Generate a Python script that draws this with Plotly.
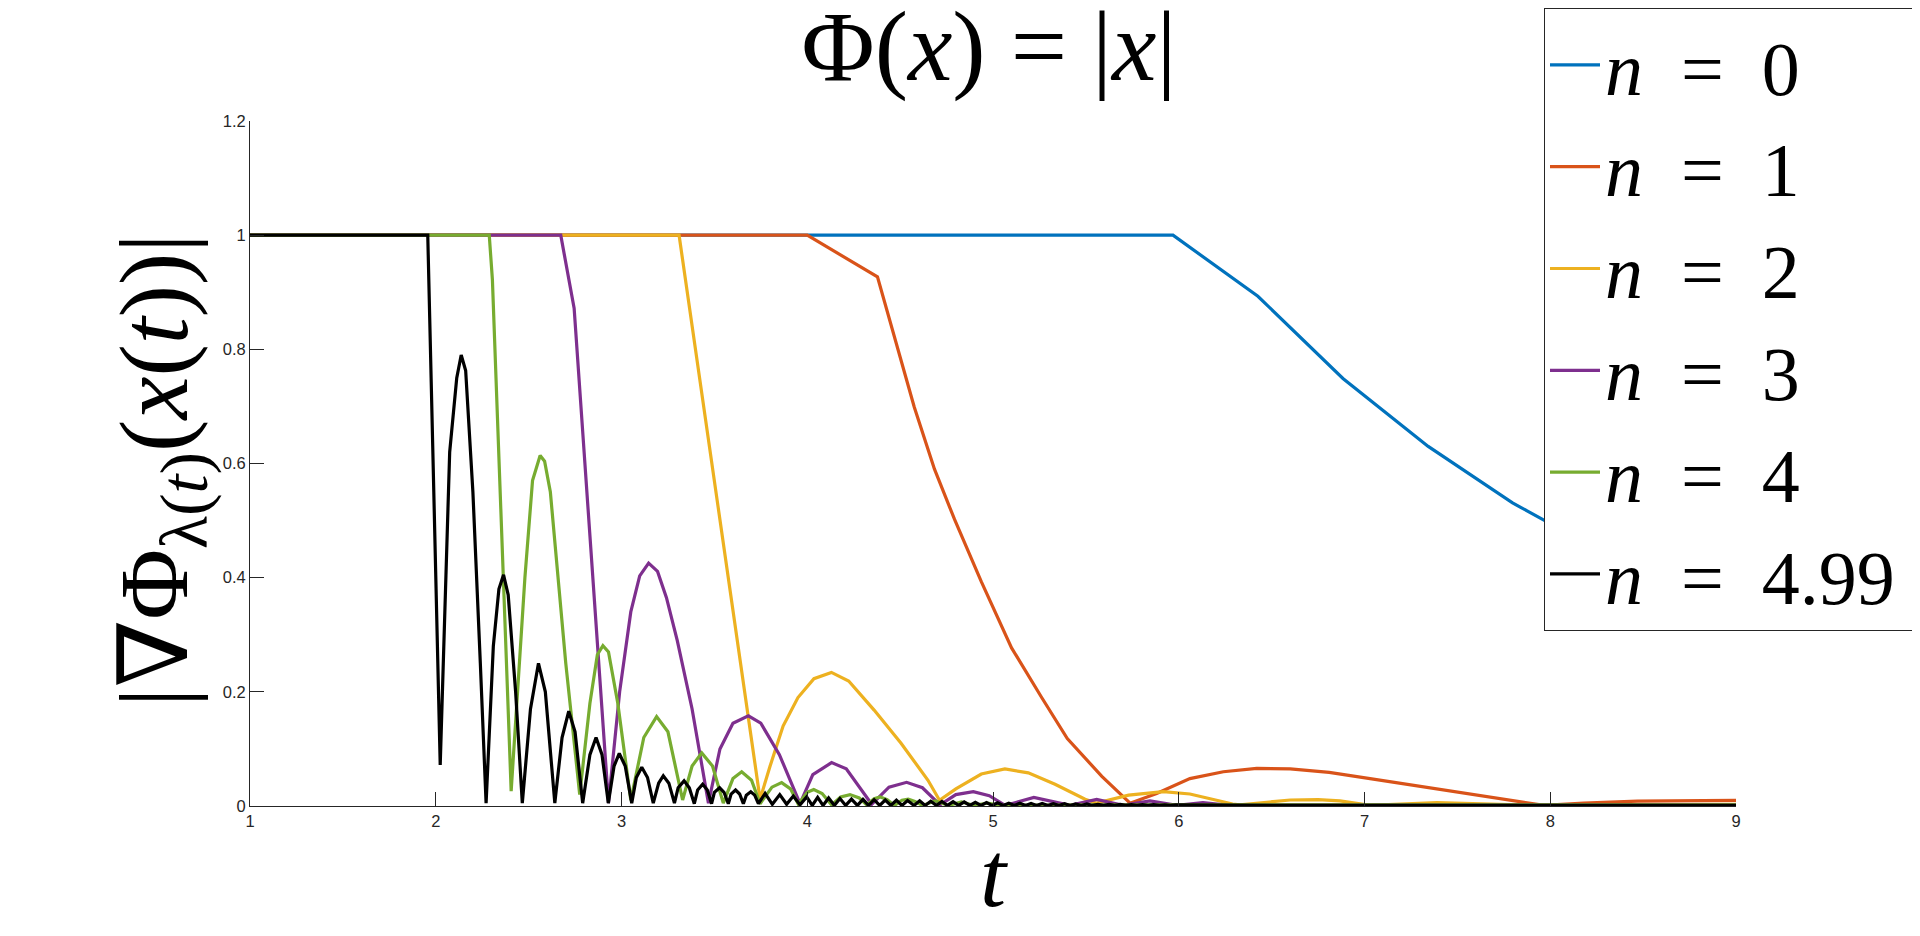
import plotly.graph_objects as go

# ---------------- data ----------------
series_names = ["n = 0", "n = 1", "n = 2", "n = 3", "n = 4", "n = 4.99"]
series_colors = ["#0072BD", "#D95319", "#EDB120", "#7E2F8E", "#77AC30", "#000000"]

blue_t = [1.0, 5.969, 6.426, 6.884, 7.343, 7.797, 8.25, 8.71, 9.0]
blue_v = [1.0, 1.0, 0.893, 0.749, 0.630, 0.531, 0.450, 0.385, 0.345]

red_t = [1.0, 4.0, 4.378, 4.468, 4.576, 4.685, 4.793, 4.937, 5.10, 5.262, 5.40,
         5.586, 5.738, 5.881, 6.06, 6.24, 6.42, 6.60, 6.81, 7.03, 7.39, 7.75,
         7.966, 8.18, 8.47, 9.0]
red_v = [1.0, 1.0, 0.927, 0.822, 0.699, 0.590, 0.502, 0.393, 0.277, 0.190, 0.118,
         0.052, 0.005, 0.022, 0.048, 0.060, 0.066, 0.065, 0.059, 0.048, 0.030, 0.011,
         0.001, 0.005, 0.0085, 0.010]

yellow_t = [1.0, 3.31, 3.746, 3.80, 3.87, 3.95, 4.036, 4.13, 4.223, 4.36, 4.505,
            4.65, 4.712, 4.80, 4.937, 5.064, 5.19, 5.334, 5.496, 5.558, 5.73, 5.917,
            6.06, 6.29, 6.33, 6.60, 6.75, 6.868, 7.03, 7.39, 7.93, 9.0]
yellow_v = [1.0, 1.0, 0.012, 0.07, 0.14, 0.19, 0.223, 0.234, 0.219, 0.168, 0.110,
            0.045, 0.010, 0.030, 0.056, 0.065, 0.058, 0.038, 0.012, 0.005, 0.019, 0.025,
            0.021, 0.0035, 0.002, 0.0105, 0.011, 0.009, 0.001, 0.006, 0.001, 0.003]

purple_t = [1.0, 2.673, 2.745, 2.93, 2.99, 3.05, 3.098, 3.146, 3.194, 3.242, 3.30,
            3.38, 3.468, 3.53, 3.60, 3.683, 3.75, 3.85, 3.961, 4.03, 4.131, 4.21,
            4.347, 4.44, 4.535, 4.62, 4.715, 4.80, 4.894, 4.98, 5.065, 5.22, 5.415,
            5.558, 5.70, 5.845, 5.99, 6.13, 6.27, 6.6, 9.0]
purple_v = [1.0, 1.0, 0.872, 0.005, 0.20, 0.34, 0.403, 0.4255, 0.411, 0.365, 0.29,
            0.17, 0.005, 0.10, 0.145, 0.158, 0.145, 0.09, 0.004, 0.055, 0.076, 0.065,
            0.003, 0.033, 0.0415, 0.032, 0.002, 0.02, 0.025, 0.018, 0.001, 0.015, 0.001,
            0.0117, 0.001, 0.0088, 0.001, 0.006, 0.001, 0.002, 0.002]

green_t = [1.0, 2.288, 2.305, 2.406, 2.48, 2.521, 2.562, 2.586, 2.617, 2.70, 2.775,
           2.83, 2.87, 2.90, 2.93, 2.98, 3.05, 3.12, 3.189, 3.25, 3.329, 3.38, 3.432,
           3.49, 3.548, 3.60, 3.647, 3.70, 3.746, 3.81, 3.862, 3.91, 3.952, 4.0, 4.035,
           4.08, 4.131, 4.18, 4.23, 4.28, 4.32, 4.36, 4.392, 4.43, 4.47, 4.51, 4.544,
           4.58, 4.62, 4.69, 4.76, 4.83, 4.90, 4.97, 5.04, 5.5, 9.0]
green_v = [1.0, 1.0, 0.922, 0.026, 0.40, 0.57, 0.614, 0.604, 0.55, 0.25, 0.02,
           0.18, 0.265, 0.281, 0.27, 0.18, 0.01, 0.12, 0.1565, 0.13, 0.0105, 0.07, 0.093,
           0.07, 0.005, 0.048, 0.060, 0.045, 0.004, 0.033, 0.041, 0.03, 0.003, 0.024, 0.029,
           0.022, 0.002, 0.016, 0.020, 0.014, 0.002, 0.013, 0.016, 0.011, 0.001, 0.010, 0.012,
           0.008, 0.001, 0.009, 0.001, 0.007, 0.001, 0.005, 0.001, 0.002, 0.002]

black_t = [1.0, 1.957, 2.024, 2.075, 2.113, 2.137, 2.161, 2.20, 2.24, 2.271,
           2.31, 2.34, 2.365, 2.39, 2.43, 2.466, 2.51, 2.553, 2.59, 2.641,
           2.68, 2.716, 2.75, 2.791, 2.83, 2.863, 2.895, 2.929, 2.96, 2.988, 3.02, 3.055,
           3.08, 3.109, 3.14, 3.171, 3.20, 3.225, 3.255, 3.285,
           3.305, 3.337, 3.365, 3.392, 3.41, 3.437, 3.462, 3.485,
           3.50, 3.528, 3.552, 3.575, 3.59, 3.614, 3.636, 3.656,
           3.672, 3.696, 3.717, 3.737, 3.773, 3.812, 3.852, 3.889, 3.925, 3.961,
           3.997, 4.027, 4.056, 4.085, 4.115, 4.146, 4.176, 4.207, 4.238, 4.27,
           4.30, 4.33, 4.36, 4.39, 4.42, 4.45, 4.48, 4.51, 4.54, 4.575,
           4.605, 4.635, 4.665, 4.695, 4.725, 4.755, 4.785, 4.815, 4.845, 4.875,
           4.905, 4.935, 4.965, 4.995, 5.025, 5.055, 5.085, 5.115, 5.145, 5.175,
           5.205, 5.235, 5.265, 5.295, 5.325, 5.355, 5.385, 5.415, 5.445, 5.475,
           5.505, 5.535, 5.565, 5.595, 5.625, 5.655, 5.685, 5.715, 5.745, 5.775,
           5.805, 5.835, 5.865, 5.895, 5.925, 5.955, 5.985, 6.5, 9.0]
black_v = [1.0, 1.0, 0.072, 0.62, 0.75, 0.79, 0.763, 0.55, 0.25, 0.005,
           0.28, 0.38, 0.405, 0.37, 0.2, 0.005, 0.17, 0.25, 0.2, 0.005,
           0.12, 0.166, 0.13, 0.005, 0.09, 0.12, 0.09, 0.005, 0.07, 0.092, 0.07, 0.005,
           0.05, 0.068, 0.05, 0.005, 0.04, 0.053, 0.04, 0.005,
           0.032, 0.044, 0.032, 0.004, 0.028, 0.038, 0.028, 0.004,
           0.024, 0.032, 0.024, 0.004, 0.021, 0.028, 0.021, 0.004,
           0.019, 0.025, 0.019, 0.004, 0.022, 0.003, 0.020, 0.003, 0.0175, 0.002,
           0.016, 0.001, 0.015, 0.001, 0.014, 0.001, 0.013, 0.001, 0.012, 0.001,
           0.0115, 0.001, 0.011, 0.001, 0.0105, 0.001, 0.010, 0.001, 0.0095, 0.001,
           0.009, 0.001, 0.0085, 0.001, 0.008, 0.001, 0.0075, 0.001, 0.007, 0.001,
           0.0065, 0.001, 0.006, 0.001, 0.0055, 0.001, 0.005, 0.001, 0.005, 0.001,
           0.0045, 0.001, 0.0045, 0.001, 0.004, 0.001, 0.004, 0.001, 0.0035, 0.001,
           0.0035, 0.001, 0.003, 0.001, 0.003, 0.001, 0.003, 0.001, 0.0025, 0.001,
           0.0025, 0.001, 0.0025, 0.001, 0.002, 0.001, 0.002, 0.001, 0.001]

x_ticks = [1, 2, 3, 4, 5, 6, 7, 8, 9]
y_ticks = [0, 0.2, 0.4, 0.6, 0.8, 1.0, 1.2]
y_tick_text = ["0", "0.2", "0.4", "0.6", "0.8", "1", "1.2"]

all_t = [blue_t, red_t, yellow_t, purple_t, green_t, black_t]
all_v = [blue_v, red_v, yellow_v, purple_v, green_v, black_v]

# ---------------- figure ----------------
# The page body has an 8 px margin, so the figure starts at (8, 8) on the page.
OFF = 8
W, H = 1920 - OFF, 936 - OFF
PL, PR, PT, PB = 250, 1736, 121, 806          # plot area in page pixels
L, T = PL - OFF, PT - OFF
R, B = W - (PR - OFF), H - (PB - OFF)
PW, PH = PR - PL, PB - PT
AXC = "#262626"
SERIF = "Liberation Serif, DejaVu Serif, serif"
SANS = "Liberation Sans, Arial, sans-serif"


def px_x(page_x):
    return (page_x - PL) / PW


def px_y(page_y):
    return (PB - page_y) / PH


fig = go.Figure()
for name, col, tt, vv in zip(series_names, series_colors, all_t, all_v):
    label = name.replace("n = ", "<i>n</i>\u2002=\u2002") + "\u2009"
    fig.add_trace(go.Scatter(x=tt, y=vv, mode="lines", name=label,
                             line=dict(color=col, width=3.2)))

fig.update_layout(
    width=W, height=H,
    margin=dict(l=L, r=R, t=T, b=B, autoexpand=False),
    paper_bgcolor="white", plot_bgcolor="white",
    showlegend=True,
    legend=dict(
        xref="container", yref="container",
        x=(1544 - OFF) / W, y=1.0, xanchor="left", yanchor="top",
        bgcolor="white", bordercolor=AXC, borderwidth=1,
        font=dict(family=SERIF, size=76, color="black"),
        itemwidth=50, tracegroupgap=0, maxheight=930,
    ),
    title=dict(
        text="\u03a6(<i>x</i>) = |<i>x</i>|",
        xref="container", yref="container",
        x=(989 - OFF) / W, y=1 - (45 - OFF) / H, xanchor="center", yanchor="middle",
        font=dict(family=SERIF, size=100, color="black"),
    ),
    xaxis=dict(
        range=[1, 9], tickvals=x_ticks, ticks="inside", ticklen=14, tickwidth=1,
        tickcolor=AXC, showline=True, linecolor=AXC, linewidth=1, mirror=False,
        showgrid=False, zeroline=False,
        tickfont=dict(family=SANS, size=16.5, color=AXC),
    ),
    yaxis=dict(
        range=[0, 1.2], tickvals=y_ticks, ticktext=y_tick_text, ticks="inside",
        ticklen=14, tickwidth=1, tickcolor=AXC, showline=True, linecolor=AXC,
        linewidth=1, mirror=False, showgrid=False, zeroline=False,
        tickfont=dict(family=SANS, size=16.5, color=AXC),
    ),
    annotations=[
        dict(text="|\u2207\u03a6<sub>\u03bb(<i>t</i>)</sub>(<i>x</i>(<i>t</i>))|",
             xref="paper", yref="paper", x=px_x(161), y=px_y(470),
             xanchor="center", yanchor="middle",
             textangle=-90, showarrow=False,
             font=dict(family=SERIF, size=97, color="black")),
        dict(text="<i>t</i>", xref="paper", yref="paper",
             x=px_x(994), y=px_y(874),
             xanchor="center", yanchor="middle", showarrow=False,
             font=dict(family=SERIF, size=94, color="black")),
    ],
)

fig.write_html("out.html")
